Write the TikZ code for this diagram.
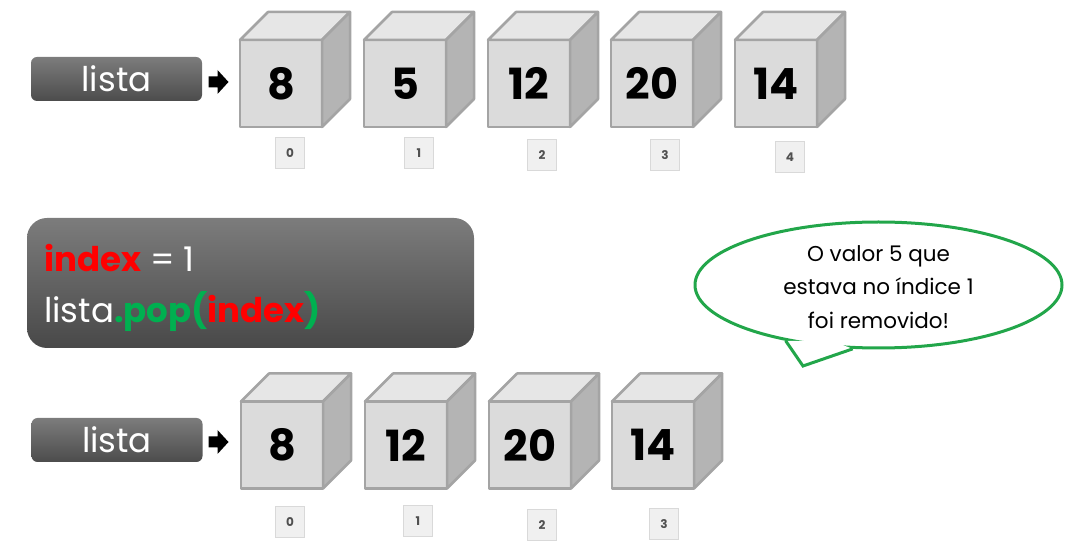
\documentclass[tikz,border=0pt]{standalone}
\usepackage{fontspec}
\setmainfont{Poppins}
\usetikzlibrary{shapes.geometric,calc}
\definecolor{cubefront}{HTML}{DBDBDB}
\definecolor{cubetop}{HTML}{E6E6E6}
\definecolor{cubeside}{HTML}{B4B4B4}
\definecolor{cubeedge}{HTML}{A4A4A4}
\definecolor{idxfill}{HTML}{F0F0F0}
\definecolor{idxedge}{HTML}{D9D9D9}
\definecolor{idxtext}{HTML}{505050}
\definecolor{boxtop}{HTML}{7C7C7C}
\definecolor{boxbot}{HTML}{4C4C4C}
\definecolor{codered}{HTML}{FF0000}
\definecolor{codegreen}{HTML}{00B050}
\definecolor{calloutgreen}{HTML}{22A64A}
\tikzset{
  listabox/.style={rounded corners=6pt, top color=boxtop, bottom color=boxbot, draw=none,
    minimum width=171pt, minimum height=44pt, inner sep=0pt, text=white,
    font=\fontsize{34}{34}\selectfont},
  blockarrow/.style={fill=black, draw=none},
  cubeface/.style={draw=cubeedge, fill=cubefront, line width=2.5pt, line join=round, outer sep=0pt,
    minimum width=82pt, minimum height=87pt, inner sep=0pt, font=\bfseries\fontsize{43}{43}\selectfont},
  cubepart/.style={draw=cubeedge, line width=2.5pt, line join=round},
  idxbox/.style={draw=idxedge, fill=idxfill, line width=0.8pt, minimum width=29pt, minimum height=31pt,
    inner sep=0pt, text=idxtext, font=\bfseries\fontsize{12}{12}\selectfont},
  codebox/.style={rounded corners=20pt, top color=boxtop, bottom color=boxbot!95!black, draw=none,
    minimum width=447pt, minimum height=130pt},
  codetext/.style={anchor=base west, inner sep=0pt, text=white, font=\fontsize{34}{34}\selectfont},
  callout/.style={ellipse, draw=calloutgreen, line width=3pt, minimum width=367pt, minimum height=126pt, inner sep=0pt},
  callouttext/.style={align=center, font=\fontsize{21.5}{33.5}\selectfont, text=black}
}
\newcommand{\blockarrowat}[1]{%
  \fill[blockarrow] ($(#1)+(-10,-5.5)$) -- ($(#1)+(-1,-5.5)$) -- ($(#1)+(-1,-12)$) -- ($(#1)+(10,0)$)
    -- ($(#1)+(-1,12)$) -- ($(#1)+(-1,5.5)$) -- ($(#1)+(-10,5.5)$) -- cycle;}
\begin{document}
\begin{tikzpicture}[x=1pt,y=-1pt]
\useasboundingbox (0,0) rectangle (1072,553);

% top row
\node[listabox] (listaA) at (116.5,79) {lista};
\coordinate (arrA) at (218.5,82);
\blockarrowat{arrA}
\foreach \cx/\v/\ix/\iy/\i in {281/8/290/153/0, 405/5/419/153/1, 529/12/542/155/2, 652/20/665/155/3, 776/14/790/157/4}{
  \node[cubeface] (ca\i) at (\cx,83.5) {\v};
  \draw[cubepart, fill=cubetop] (ca\i.north west) -- ++(28,-28) -- ++(82,0) -- (ca\i.north east) -- cycle;
  \draw[cubepart, fill=cubeside] (ca\i.north east) -- ++(28,-28) -- ++(0,87) -- (ca\i.south east) -- cycle;
  \node[idxbox] (ia\i) at (\ix,\iy) {\i};
}

% code box
\node[codebox] (code) at (250.5,283) {};
\node[codetext] (line1) at (44,272) {\textcolor{codered}{\bfseries index} = 1};
\node[codetext] (line2) at (44,323) {lista\textcolor{codegreen}{\bfseries .pop(}\textcolor{codered}{\bfseries index}\textcolor{codegreen}{\bfseries )}};

% callout
\node[callout] (bubble) at (878.5,285) {};
\coordinate (tip) at (803,366);
\fill[white] (bubble.211) -- (tip) -- (bubble.248) -- ($(bubble.center)!0.9!(bubble.230)$) -- cycle;
\draw[calloutgreen, line width=3pt, line join=miter] (bubble.211) -- (tip) -- (bubble.248);
\node[callouttext] (btext) at (878.5,287) {O valor 5 que\\estava no índice 1\\foi removido!};

% bottom row
\node[listabox] (listaB) at (117,440) {lista};
\coordinate (arrB) at (218.5,442);
\blockarrowat{arrB}
\foreach \cx/\v/\ix/\iy/\i in {282/8/290/522/0, 406/12/418/521/1, 530/20/542/525/2, 653/14/664/524/3}{
  \node[cubeface] (cb\i) at (\cx,445) {\v};
  \draw[cubepart, fill=cubetop] (cb\i.north west) -- ++(28,-28) -- ++(82,0) -- (cb\i.north east) -- cycle;
  \draw[cubepart, fill=cubeside] (cb\i.north east) -- ++(28,-28) -- ++(0,87) -- (cb\i.south east) -- cycle;
  \node[idxbox] (ib\i) at (\ix,\iy) {\i};
}
\end{tikzpicture}
\end{document}
